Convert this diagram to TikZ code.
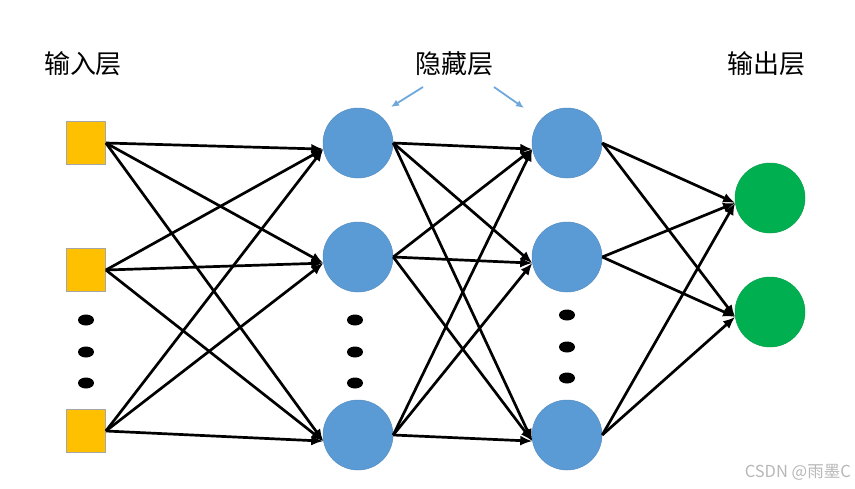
\documentclass[tikz,border=0pt]{standalone}
\usepackage{fontspec}
\setmainfont{Noto Sans CJK SC}
\usetikzlibrary{arrows.meta}
\definecolor{inyellow}{HTML}{FFC000}
\definecolor{hidblue}{HTML}{5B9BD5}
\definecolor{outgreen}{HTML}{00B050}
\definecolor{pointerblue}{HTML}{6FA8DC}
\tikzset{
  inbox/.style={rectangle, minimum width=39pt, minimum height=43pt, fill=inyellow, draw=gray!70, line width=0.8pt, inner sep=0pt},
  hidcirc/.style={circle, minimum size=70pt, fill=hidblue, draw=hidblue!90!black, line width=0.5pt, inner sep=0pt},
  outcirc/.style={circle, minimum size=70pt, fill=outgreen, draw=outgreen!90!black, line width=0.5pt, inner sep=0pt},
  conn/.style={line width=2.7pt, black, -{Latex[length=12pt,width=10pt]}},
  pointer/.style={line width=1.8pt, pointerblue, -{Latex[length=8pt,width=7pt]}},
  layerlabel/.style={font=\fontsize{26}{28}\selectfont, text=black, inner sep=0pt},
  wmark/.style={font=\fontsize{16.5}{18}\selectfont, text=black!28, inner sep=0pt},
  dotmark/.style={fill=black}
}
\begin{document}
\begin{tikzpicture}[x=1pt,y=-1pt]
\useasboundingbox (0,0) rectangle (855,488);
\fill[white] (0,0) rectangle (855,488);
% labels
\node[layerlabel] (lin) at (83,64) {输入层};
\node[layerlabel] (lhid) at (454,64) {隐藏层};
\node[layerlabel] (lout) at (766,64) {输出层};
% pointer arrows
\coordinate (p1s) at (423,87);
\coordinate (p1e) at (391,107);
\coordinate (p2s) at (494,87);
\coordinate (p2e) at (524,108);
\draw[pointer] (p1s) -- (p1e);
\draw[pointer] (p2s) -- (p2e);
% input nodes
\node[inbox] (i1) at (86,143) {};
\node[inbox] (i2) at (86,270) {};
\node[inbox] (i3) at (86,431) {};
% hidden layer 1
\node[hidcirc] (a1) at (358,143) {};
\node[hidcirc] (a2) at (358,257) {};
\node[hidcirc] (a3) at (358,435) {};
% hidden layer 2
\node[hidcirc] (b1) at (567,143) {};
\node[hidcirc] (b2) at (567,257) {};
\node[hidcirc] (b3) at (567,435) {};
% output layer
\node[outcirc] (o1) at (770,198) {};
\node[outcirc] (o2) at (770,312) {};
% dots
\foreach \yy in {320,352,383} {\fill[dotmark] (86,\yy) ellipse [x radius=8, y radius=5.5];}
\foreach \yy in {320,352,383} {\fill[dotmark] (355,\yy) ellipse [x radius=8, y radius=5.5];}
\foreach \yy in {315,347,378} {\fill[dotmark] (567,\yy) ellipse [x radius=8, y radius=5.5];}
% connections
\foreach \s in {i1,i2,i3} {
  \foreach \t in {a1,a2,a3} {
    \draw[conn] (\s.east) -- (\t.190);
  }
}
\foreach \s in {a1,a2,a3} {
  \foreach \t in {b1,b2,b3} {
    \draw[conn] (\s.east) -- (\t.190);
  }
}
\foreach \s in {b1,b2,b3} {
  \foreach \t in {o1,o2} {
    \draw[conn] (\s.east) -- (\t.188);
  }
}
% watermark
\node[wmark, anchor=east] (wm) at (851,472) {CSDN @雨墨C};
\end{tikzpicture}
\end{document}
